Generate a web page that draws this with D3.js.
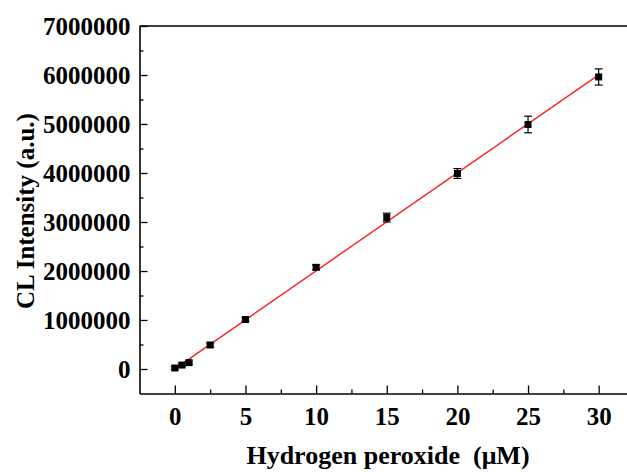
<!DOCTYPE html>
<html lang="en">
<head>
<meta charset="UTF-8">
<title>CL intensity vs hydrogen peroxide</title>
<script src="https://cdn.jsdelivr.net/npm/d3@7/dist/d3.min.js"></script>
<style>
body { margin: 0; background: #fff; }
text { font-family: "Times New Roman", "Liberation Serif", serif; font-weight: bold; fill: #000; }
</style>
</head>
<body>
<script>
// data
var conc = [0, 0.5, 1, 2.5, 5, 10, 15, 20, 25, 30];          // µM
var intensity = [20000, 80000, 130000, 490000, 1010000, 2075000, 3090000, 3990000, 4990000, 5960000];
var errors = [30000, 30000, 30000, 40000, 40000, 50000, 90000, 100000, 170000, 165000];
var xTicks = [0, 5, 10, 15, 20, 25, 30];
var yTicks = [0, 1000000, 2000000, 3000000, 4000000, 5000000, 6000000, 7000000];

var w = 627, h = 472;

var svg = d3.select("body").append("svg")
  .attr("width", w)
  .attr("height", h);

var x = d3.scaleLinear().domain([-2.5, 32.5]).range([139.5, 634]);
var y = d3.scaleLinear().domain([-500000, 7000000]).range([393.5, 26]);

// minor ticks
var xMinor = xTicks.slice(0, -1).map(function(d) { return d + 2.5; });
var yMinor = yTicks.slice(0, -1).map(function(d) { return d + 500000; });

svg.append("g")
  .attr("transform", "translate(0," + y.range()[0] + ")")
  .call(d3.axisBottom(x).tickValues(xMinor).tickFormat("").tickSize(-4).tickSizeOuter(0))
  .call(function(g) { g.select(".domain").remove(); })
  .selectAll("line").attr("stroke-width", 1.3);

svg.append("g")
  .attr("transform", "translate(" + x.range()[0] + ",0)")
  .call(d3.axisLeft(y).tickValues(yMinor).tickFormat("").tickSize(-4).tickSizeOuter(0))
  .call(function(g) { g.select(".domain").remove(); })
  .selectAll("line").attr("stroke-width", 1.3);

// major axes
var xAxis = svg.append("g")
  .attr("transform", "translate(0," + y.range()[0] + ")")
  .call(d3.axisBottom(x).tickValues(xTicks).tickSize(-8).tickSizeOuter(0).tickPadding(14));

var yAxis = svg.append("g")
  .attr("transform", "translate(" + x.range()[0] + ",0)")
  .call(d3.axisLeft(y).tickValues(yTicks).tickFormat(d3.format("d")).tickSize(-8).tickSizeOuter(0).tickPadding(9));

[xAxis, yAxis].forEach(function(g) {
  g.selectAll("line").attr("stroke-width", 1.3);
  g.select(".domain").attr("stroke-width", 1.6);
  g.selectAll("text").style("font-size", "25px").style("font-family", null);
});

// top frame line
svg.append("line")
  .attr("x1", x.range()[0]).attr("x2", x.range()[1])
  .attr("y1", y.range()[1]).attr("y2", y.range()[1])
  .attr("stroke", "#000").attr("stroke-width", 1.6);

// least squares fit through the points
var mx = d3.mean(conc), my = d3.mean(intensity);
var slope = d3.sum(conc, function(d, i) { return (d - mx) * (intensity[i] - my); }) /
            d3.sum(conc, function(d) { return (d - mx) * (d - mx); });
var icpt = my - slope * mx;
var xs = d3.extent(conc);

svg.append("line")
  .attr("x1", x(xs[0])).attr("y1", y(icpt + slope * xs[0]))
  .attr("x2", x(xs[1])).attr("y2", y(icpt + slope * xs[1]))
  .attr("stroke", "#ff2020").attr("stroke-width", 1.4);

// error bars
var eb = svg.append("g").attr("stroke", "#000").attr("stroke-width", 1.2);
conc.forEach(function(c, i) {
  var cx = x(c), top = y(intensity[i] + errors[i]), bot = y(intensity[i] - errors[i]);
  eb.append("line").attr("x1", cx).attr("x2", cx).attr("y1", top).attr("y2", bot);
  eb.append("line").attr("x1", cx - 4).attr("x2", cx + 4).attr("y1", top).attr("y2", top);
  eb.append("line").attr("x1", cx - 4).attr("x2", cx + 4).attr("y1", bot).attr("y2", bot);
});

// markers
svg.selectAll("rect.pt")
  .data(conc)
  .enter()
  .append("rect")
  .attr("class", "pt")
  .attr("x", function(d) { return x(d) - 3.5; })
  .attr("y", function(d, i) { return y(intensity[i]) - 3.5; })
  .attr("width", 7)
  .attr("height", 7)
  .attr("fill", "#000");

// axis titles
svg.append("text")
  .attr("x", 388)
  .attr("y", 464)
  .attr("text-anchor", "middle")
  .style("font-size", "26px")
  .attr("xml:space", "preserve")
  .text("Hydrogen peroxide  (\u03bcM)");

svg.append("text")
  .attr("transform", "translate(34,211) rotate(-90)")
  .attr("text-anchor", "middle")
  .style("font-size", "25px")
  .text("CL Intensity (a.u.)");
</script>
</body>
</html>
